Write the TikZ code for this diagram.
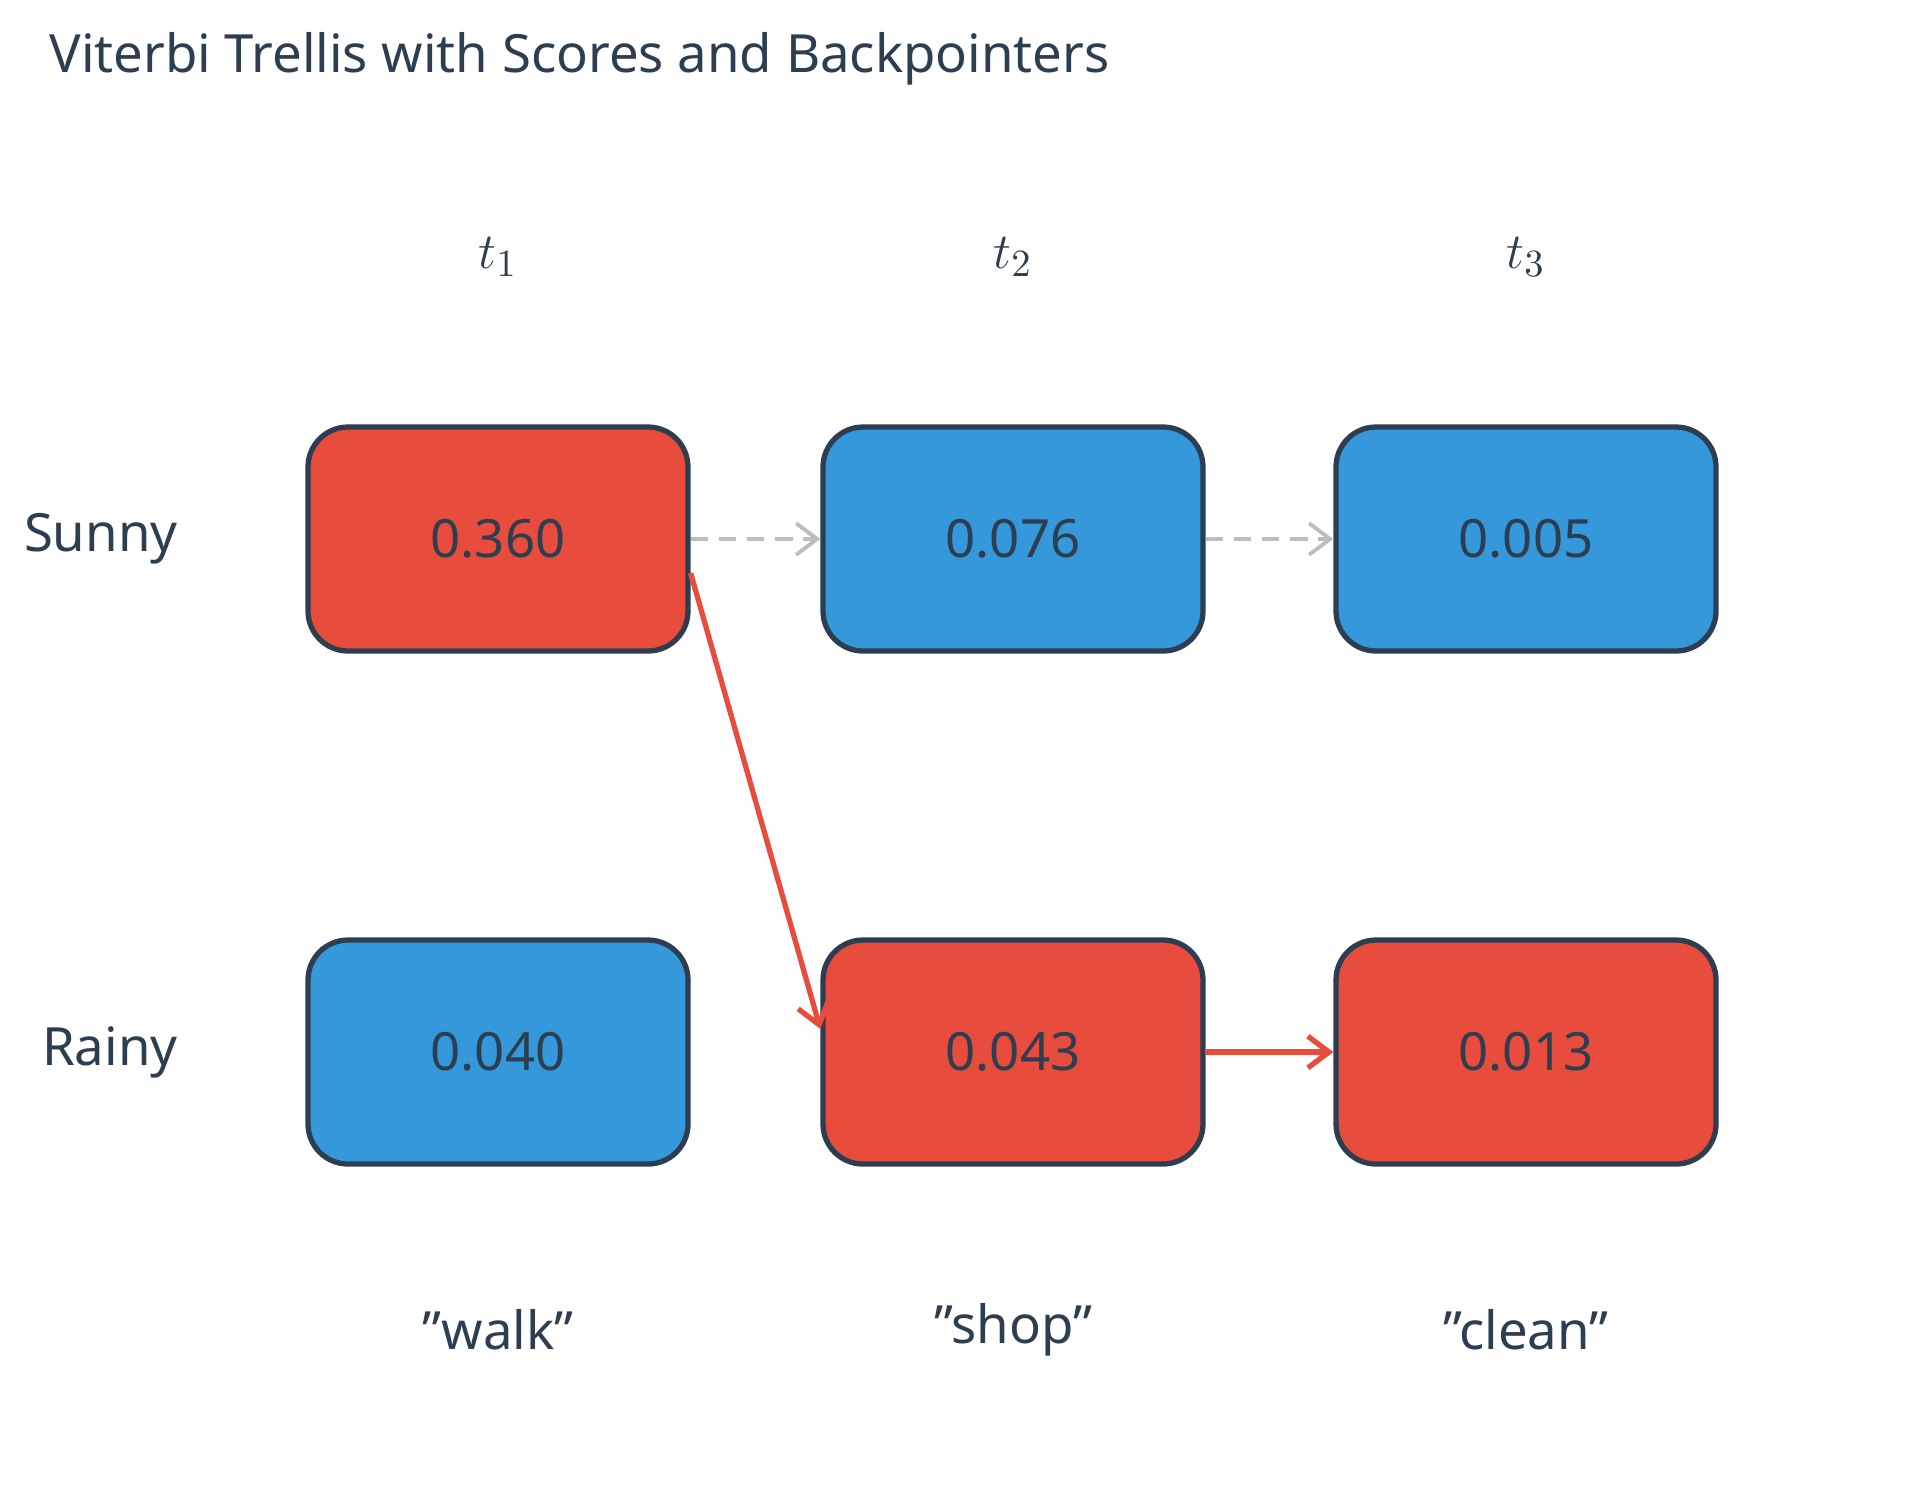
\documentclass[tikz,border=0pt]{standalone}
\usepackage{fontspec}
\setmainfont{Noto Sans}
\usetikzlibrary{arrows.meta}
\definecolor{bestred}{HTML}{E74C3C}
\definecolor{otherblue}{HTML}{3498DB}
\definecolor{edgedark}{HTML}{2C3E50}
\definecolor{pathgray}{HTML}{BDBDBD}
\begin{document}
\begin{tikzpicture}[>={Straight Barb[length=6pt,width=9pt]},
  cell/.style={draw=edgedark,line width=1.5pt,rounded corners=0.4cm,minimum width=3.8cm,minimum height=2.24cm,font=\fontsize{15}{18}\selectfont,text=edgedark},
  best/.style={cell,fill=bestred},
  other/.style={cell,fill=otherblue},
  lab/.style={font=\fontsize{15}{18}\selectfont,text=edgedark},
  back/.style={->,bestred,line width=1.5pt},
  alt/.style={->,pathgray,line width=1.1pt,dash pattern=on 5pt off 3pt}]
\useasboundingbox (0,0) rectangle (19.2,-15);
\node[lab,anchor=west] (title) at (0.37,-0.59) {Viterbi Trellis with Scores and Backpointers};
\node[lab] (t1) at (4.98,-2.57) {$t_1$};
\node[lab] (t2) at (10.13,-2.57) {$t_2$};
\node[lab] (t3) at (15.26,-2.57) {$t_3$};
\node[lab,anchor=east] (sunny) at (1.90,-5.39) {Sunny};
\node[lab,anchor=east] (rainy) at (1.90,-10.52) {Rainy};
\node[best] (s1) at (4.98,-5.39) {0.360};
\node[other] (s2) at (10.13,-5.39) {0.076};
\node[other] (s3) at (15.26,-5.39) {0.005};
\node[other] (r1) at (4.98,-10.52) {0.040};
\node[best] (r2) at (10.13,-10.52) {0.043};
\node[best] (r3) at (15.26,-10.52) {0.013};
\node[lab] (w1) at (4.98,-13.30) {"walk"};
\node[lab] (w2) at (10.13,-13.30) {"shop"};
\node[lab] (w3) at (15.26,-13.30) {"clean"};

\draw[alt] (s1.east) -- (s2.west);
\draw[alt] (s2.east) -- (s3.west);
\draw[back] ([yshift=-0.34cm]s1.east) -- ([yshift=0.23cm]r2.west);
\draw[back] (r2.east) -- (r3.west);
\end{tikzpicture}
\end{document}
